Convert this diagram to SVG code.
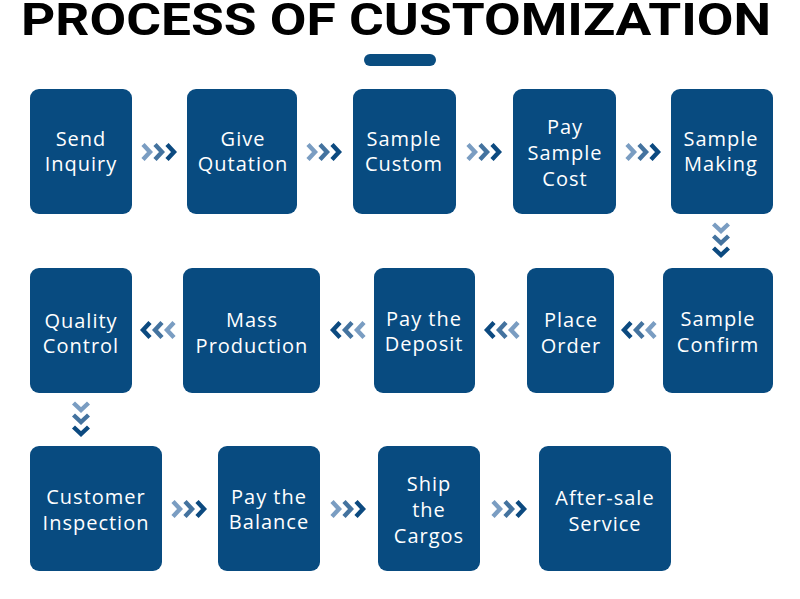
<svg xmlns="http://www.w3.org/2000/svg" width="800" height="599" viewBox="0 0 800 599">
<style>
.box{fill:#084b80}
.t{fill:#fff;font-family:"Open Sans","Liberation Sans",Arial,sans-serif;font-size:20px;font-weight:500;letter-spacing:1px;text-anchor:middle}
.c{fill:none;stroke-width:4.4;stroke-linecap:butt;stroke-linejoin:miter}
.c1{stroke:#7a9dc2}.c2{stroke:#44739f}.c3{stroke:#0c4a80}
</style>
<defs>
<g id="ar">
<path class="c c1" d="M-17,-7.5 L-10,0 L-17,7.5"/>
<path class="c c2" d="M-5,-7.5 L2,0 L-5,7.5"/>
<path class="c c3" d="M7,-7.5 L14,0 L7,7.5"/>
</g>
</defs>
<rect width="800" height="599" fill="#fff"/>
<text x="396" y="35" font-family="Roboto,Liberation Sans,Arial,sans-serif" font-weight="bold" font-size="44" textLength="750" lengthAdjust="spacingAndGlyphs" text-anchor="middle" fill="#000">PROCESS OF CUSTOMIZATION</text>
<rect x="364" y="54" width="72" height="12" rx="6" fill="#0a4d80"/>

<g id="connectors">
<use href="#ar" x="160" y="152"/>
<use href="#ar" x="325" y="152"/>
<use href="#ar" x="485" y="152"/>
<use href="#ar" x="644" y="152"/>
<use href="#ar" transform="translate(721,241) rotate(90)"/>
<use href="#ar" transform="translate(638,330) rotate(180)"/>
<use href="#ar" transform="translate(501,330) rotate(180)"/>
<use href="#ar" transform="translate(347,330) rotate(180)"/>
<use href="#ar" transform="translate(157,330) rotate(180)"/>
<use href="#ar" transform="translate(81,420) rotate(90)"/>
<use href="#ar" x="190" y="509"/>
<use href="#ar" x="349" y="509"/>
<use href="#ar" x="510" y="509"/>
</g>

<g id="n1"><rect class="box" x="30" y="89" width="102" height="125" rx="9"/><text class="t" x="81" y="146">Send</text><text class="t" x="81" y="171">Inquiry</text></g>
<g id="n2"><rect class="box" x="187" y="89" width="110" height="125" rx="9"/><text class="t" x="243" y="146">Give</text><text class="t" x="243" y="171">Qutation</text></g>
<g id="n3"><rect class="box" x="353" y="89" width="103" height="125" rx="9"/><text class="t" x="404" y="146">Sample</text><text class="t" x="404" y="171">Custom</text></g>
<g id="n4"><rect class="box" x="513" y="89" width="103" height="125" rx="9"/><text class="t" x="565" y="134">Pay</text><text class="t" x="565" y="160">Sample</text><text class="t" x="565" y="186">Cost</text></g>
<g id="n5"><rect class="box" x="671" y="89" width="102" height="125" rx="9"/><text class="t" x="721" y="146">Sample</text><text class="t" x="721" y="171">Making</text></g>

<g id="n6"><rect class="box" x="663" y="268" width="110" height="125" rx="9"/><text class="t" x="718" y="326">Sample</text><text class="t" x="718" y="352">Confirm</text></g>
<g id="n7"><rect class="box" x="527" y="268" width="87" height="125" rx="9"/><text class="t" x="571" y="327">Place</text><text class="t" x="571" y="353">Order</text></g>
<g id="n8"><rect class="box" x="374" y="268" width="101" height="125" rx="9"/><text class="t" x="424" y="326">Pay the</text><text class="t" x="424" y="351">Deposit</text></g>
<g id="n9"><rect class="box" x="183" y="268" width="137" height="125" rx="9"/><text class="t" x="252" y="327">Mass</text><text class="t" x="252" y="353">Production</text></g>
<g id="n10"><rect class="box" x="30" y="268" width="102" height="125" rx="9"/><text class="t" x="81" y="328">Quality</text><text class="t" x="81" y="353">Control</text></g>

<g id="n11"><rect class="box" x="30" y="446" width="132" height="125" rx="9"/><text class="t" x="96" y="504">Customer</text><text class="t" x="96" y="530">Inspection</text></g>
<g id="n12"><rect class="box" x="218" y="446" width="102" height="125" rx="9"/><text class="t" x="269" y="504">Pay the</text><text class="t" x="269" y="529">Balance</text></g>
<g id="n13"><rect class="box" x="378" y="446" width="102" height="125" rx="9"/><text class="t" x="429" y="491">Ship</text><text class="t" x="429" y="517">the</text><text class="t" x="429" y="543">Cargos</text></g>
<g id="n14"><rect class="box" x="539" y="446" width="132" height="125" rx="9"/><text class="t" x="605" y="505">After-sale</text><text class="t" x="605" y="531">Service</text></g>
</svg>
